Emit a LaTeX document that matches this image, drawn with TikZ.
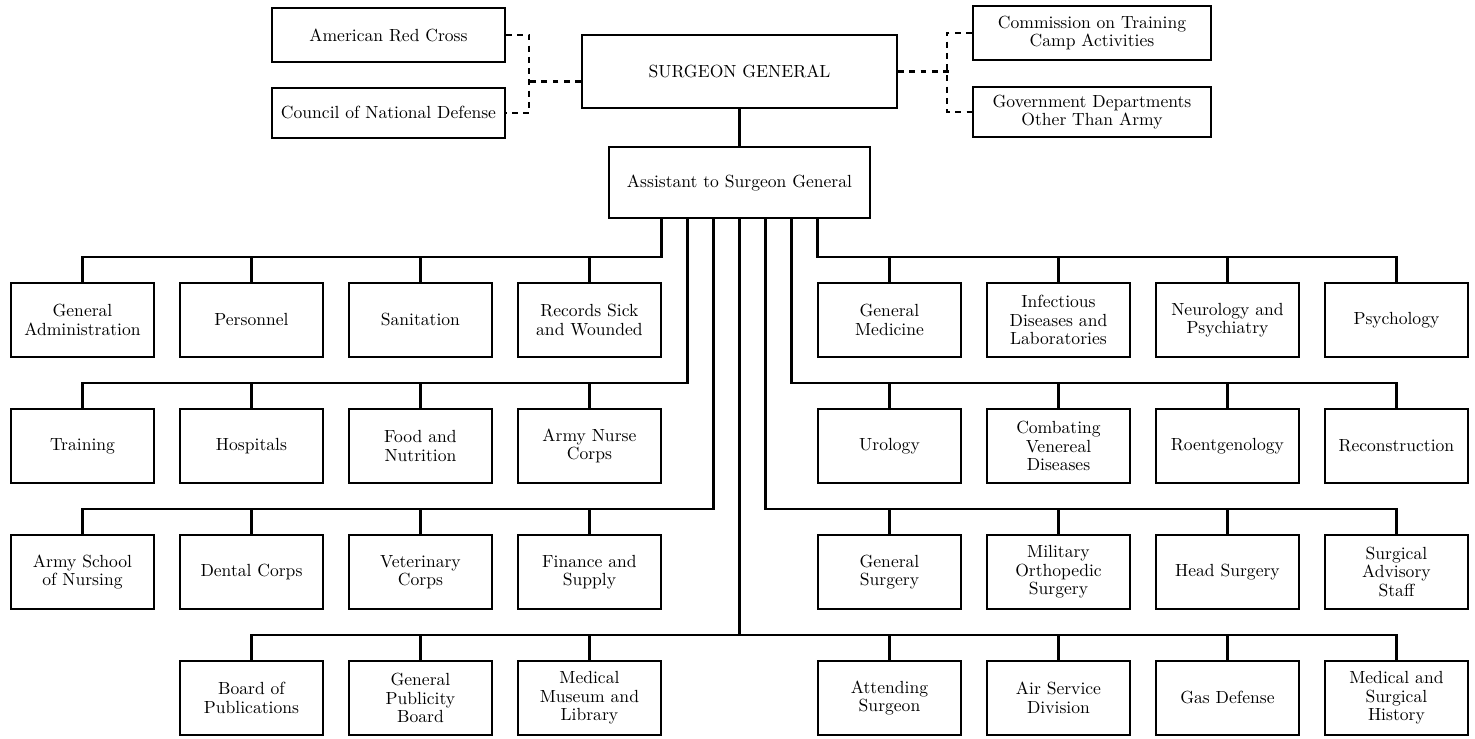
\documentclass[tikz,border=0pt]{standalone}
\usepackage{tikz}
\usetikzlibrary{positioning}

\begin{document}
\begin{tikzpicture}[
    x=0.02cm, y=-0.02cm,
    node distance=0.998cm and 0.478cm,
    font=\fontsize{10}{10.5}\selectfont,
    unit/.style={rectangle, draw=black, line width=1.2pt, fill=white,
                 text centered, align=center, minimum width=2.86cm,
                 minimum height=1.48cm, inner sep=2pt},
    head/.style={unit, minimum width=6.3cm, minimum height=1.46cm},
    outside/.style={unit, minimum width=4.7cm, minimum height=1.04cm},
    link/.style={line width=1.6pt},
    tie/.style={line width=1.5pt, dash pattern=on 3.4pt off 3pt}
]
\useasboundingbox (0,0) rectangle (1475,739);

% top of the chart
\node[head] (sg) at (739.5,71.5) {SURGEON GENERAL};
\node[unit, minimum width=5.22cm, minimum height=1.42cm, below=0.74cm of sg] (asst) {Assistant to Surgeon General};
\node[outside, minimum width=4.66cm, minimum height=1.08cm] (arc) at (388.5,35) {American Red Cross};
\node[outside, minimum width=4.66cm, minimum height=1cm] (cnd) at (388.5,113) {Council of National Defense};
\node[outside, minimum width=4.76cm, minimum height=1.08cm] (comm) at (1092,33) {Commission on Training\\Camp Activities};
\node[outside, minimum width=4.76cm, minimum height=1cm] (gov) at (1092,112) {Government Departments\\Other Than Army};
\draw[link] (sg) -- (asst);
\draw[tie] (arc.east) -- ++(0.46cm,0) |- (cnd.east);
\draw[tie] ([yshift=-0.2cm]sg.west) -- ++(-1.08cm,0);
\draw[tie] (comm.west) -- ++(-0.5cm,0) |- (gov.west);
\draw[tie] (sg.east) -- ++(1.02cm,0);

% row 1
\node[unit] (admin) at (82.5,320) {General\\Administration};
\node[unit, right=of admin] (pers) {Personnel};
\node[unit, right=of pers] (sanit) {Sanitation};
\node[unit, right=of sanit] (records) {Records Sick\\and Wounded};
\node[unit] (gmed) at (889.5,320) {General\\Medicine};
\node[unit, right=of gmed] (infect) {Infectious\\Diseases and\\Laboratories};
\node[unit, right=of infect] (neuro) {Neurology and\\Psychiatry};
\node[unit, right=of neuro] (psych) {Psychology};

% row 2
\node[unit, below=of admin] (train) {Training};
\node[unit, right=of train] (hosp) {Hospitals};
\node[unit, right=of hosp] (food) {Food and\\Nutrition};
\node[unit, right=of food] (nurse) {Army Nurse\\Corps};
\node[unit, below=of gmed] (uro) {Urology};
\node[unit, right=of uro] (vener) {Combating\\Venereal\\Diseases};
\node[unit, right=of vener] (roent) {Roentgenology};
\node[unit, right=of roent] (recon) {Reconstruction};

% row 3
\node[unit, below=of train] (school) {Army School\\of Nursing};
\node[unit, right=of school] (dental) {Dental Corps};
\node[unit, right=of dental] (vet) {Veterinary\\Corps};
\node[unit, right=of vet] (finance) {Finance and\\Supply};
\node[unit, below=of uro] (gsurg) {General\\Surgery};
\node[unit, right=of gsurg] (ortho) {Military\\Orthopedic\\Surgery};
\node[unit, right=of ortho] (headsurg) {Head Surgery};
\node[unit, right=of headsurg] (advis) {Surgical\\Advisory\\Staff};

% row 4
\node[unit, below=of dental] (board) {Board of\\Publications};
\node[unit, right=of board] (public) {General\\Publicity\\Board};
\node[unit, right=of public] (museum) {Medical\\Museum and\\Library};
\node[unit, below=of gsurg] (attend) {Attending\\Surgeon};
\node[unit, right=of attend] (air) {Air Service\\Division};
\node[unit, right=of air] (gas) {Gas Defense};
\node[unit, right=of gas] (medhist) {Medical and\\Surgical\\History};

% lines from the assistant
\draw[link] ([xshift=-1.56cm]asst.south) |- ([yshift=5mm]admin.north) -- (admin.north);
\draw[link] (pers.north) -- ++(0,0.5cm);
\draw[link] (sanit.north) -- ++(0,0.5cm);
\draw[link] (records.north) -- ++(0,0.5cm);
\draw[link] ([xshift=1.56cm]asst.south) |- ([yshift=5mm]psych.north) -- (psych.north);
\draw[link] (gmed.north) -- ++(0,0.5cm);
\draw[link] (infect.north) -- ++(0,0.5cm);
\draw[link] (neuro.north) -- ++(0,0.5cm);

\draw[link] ([xshift=-1.04cm]asst.south) |- ([yshift=5mm]train.north) -- (train.north);
\draw[link] (hosp.north) -- ++(0,0.5cm);
\draw[link] (food.north) -- ++(0,0.5cm);
\draw[link] (nurse.north) -- ++(0,0.5cm);
\draw[link] ([xshift=1.04cm]asst.south) |- ([yshift=5mm]recon.north) -- (recon.north);
\draw[link] (uro.north) -- ++(0,0.5cm);
\draw[link] (vener.north) -- ++(0,0.5cm);
\draw[link] (roent.north) -- ++(0,0.5cm);

\draw[link] ([xshift=-0.52cm]asst.south) |- ([yshift=5mm]school.north) -- (school.north);
\draw[link] (dental.north) -- ++(0,0.5cm);
\draw[link] (vet.north) -- ++(0,0.5cm);
\draw[link] (finance.north) -- ++(0,0.5cm);
\draw[link] ([xshift=0.52cm]asst.south) |- ([yshift=5mm]advis.north) -- (advis.north);
\draw[link] (gsurg.north) -- ++(0,0.5cm);
\draw[link] (ortho.north) -- ++(0,0.5cm);
\draw[link] (headsurg.north) -- ++(0,0.5cm);

\coordinate[above=5mm of board.north] (bus4);
\draw[link] (asst.south) -- (asst.south |- bus4);
\draw[link] (board.north) -- (bus4) -| (medhist.north);
\draw[link] (public.north) -- ++(0,0.5cm);
\draw[link] (museum.north) -- ++(0,0.5cm);
\draw[link] (attend.north) -- ++(0,0.5cm);
\draw[link] (air.north) -- ++(0,0.5cm);
\draw[link] (gas.north) -- ++(0,0.5cm);
\end{tikzpicture}
\end{document}
